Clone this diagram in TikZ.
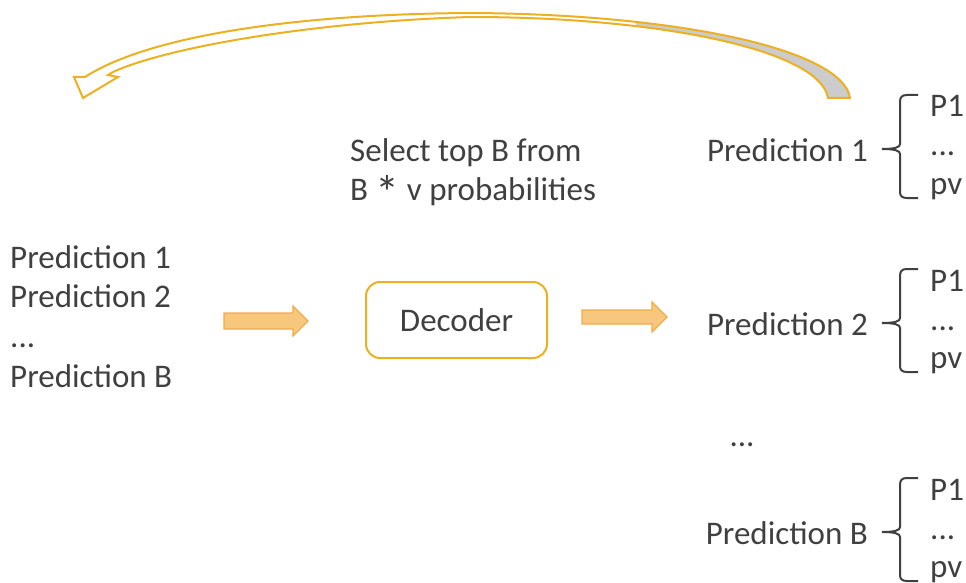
\documentclass[tikz,border=0pt]{standalone}
\usepackage{fontspec}
\setmainfont{Carlito}
\usetikzlibrary{positioning,calc}

\definecolor{gold}{HTML}{EDB021}
\definecolor{peach}{HTML}{F8C77E}
\definecolor{peachline}{HTML}{F0AC48}
\definecolor{ink}{HTML}{404040}
\definecolor{tailgray}{HTML}{CCCCCC}

\tikzset{
  txt/.style={font=\fontsize{33}{40}\selectfont, text=ink, inner sep=0pt},
  decbox/.style={draw=gold, line width=2pt, rounded corners=14pt, fill=white,
    minimum width=181pt, minimum height=76pt, txt},
  fatarrow/.style={draw=peachline, fill=peach, line width=1.2pt, line join=miter},
  bracket/.style={draw=ink, line width=2pt},
  loopline/.style={draw=gold, line width=2pt, line join=miter}
}

\begin{document}
\begin{tikzpicture}[x=1pt, y=-1pt]
    \useasboundingbox (0,0) rectangle (966,583);

    % Define the curved feedback band
    \def\loopband{(850,98) .. controls (843,50) and (680,14) .. (470,13)
      .. controls (300,14) and (150,35) .. (85,77) -- (74,77) -- (83,98)
      -- (118,77) -- (108,75) -- (113,72) .. controls (165,48) and (310,22) .. (470,17)
      .. controls (660,17) and (820,50) .. (828,98) -- cycle}

    % Fill the band, grey on its back side
    \fill[white] \loopband;
    \begin{scope}
        \clip (636,0) rectangle (870,110);
        \fill[tailgray] \loopband;
    \end{scope}
    \draw[loopline] \loopband;

    % Input beams
    \node[txt, anchor=base west] (in1) at (10,268) {Prediction 1};
    \node[txt, anchor=base west] (in2) at (10,307) {Prediction 2};
    \node[txt, anchor=base west] (in3) at (10,347) {...};
    \node[txt, anchor=base west] (in4) at (10,387) {Prediction B};

    % Decoder and the two block arrows
    \node[decbox] (dec) at (456.5,320) {Decoder};
    \draw[fatarrow] (224,313) -- (293,313) -- (293,306) -- (308,321)
      -- (293,336) -- (293,329) -- (224,329) -- cycle;
    \draw[fatarrow] (582,310) -- (652,310) -- (652,302) -- (667,317)
      -- (652,332) -- (652,324) -- (582,324) -- cycle;

    % Selection note
    \node[txt, anchor=base west] (sel1) at (350,161) {Select top B from};
    \node[txt, anchor=base west] (sel2) at (350,200)
      {B \raisebox{-9pt}{\fontsize{48}{40}\selectfont *} v probabilities};

    % Output predictions with their vocab distributions
    \foreach \k/\lab/\dy in {1/Prediction 1/0, 2/Prediction 2/174, 3/Prediction B/383} {
        \node[txt, anchor=base east] (pred\k) at (868,161+\dy) {\lab};
        \node[txt, anchor=base west] (top\k) at (930,117+\dy) {P1};
        \node[txt, anchor=base west] (mid\k) at (930,156+\dy) {...};
        \node[txt, anchor=base west] (pv\k) at (930,194+\dy) {pv};
        \draw[bracket] (918,95+\dy) -- (907,95+\dy)
          .. controls (902,95+\dy) and (900,97+\dy) .. (900,102+\dy) -- (900,144+\dy)
          .. controls (900,147+\dy) and (896,149+\dy) .. (882,149+\dy)
          .. controls (896,149+\dy) and (900,151+\dy) .. (900,154+\dy) -- (900,192+\dy)
          .. controls (900,196+\dy) and (902,198+\dy) .. (907,198+\dy) -- (918,198+\dy);
    }

    \node[txt, anchor=base] (gap) at (742,446) {...};
\end{tikzpicture}
\end{document}
